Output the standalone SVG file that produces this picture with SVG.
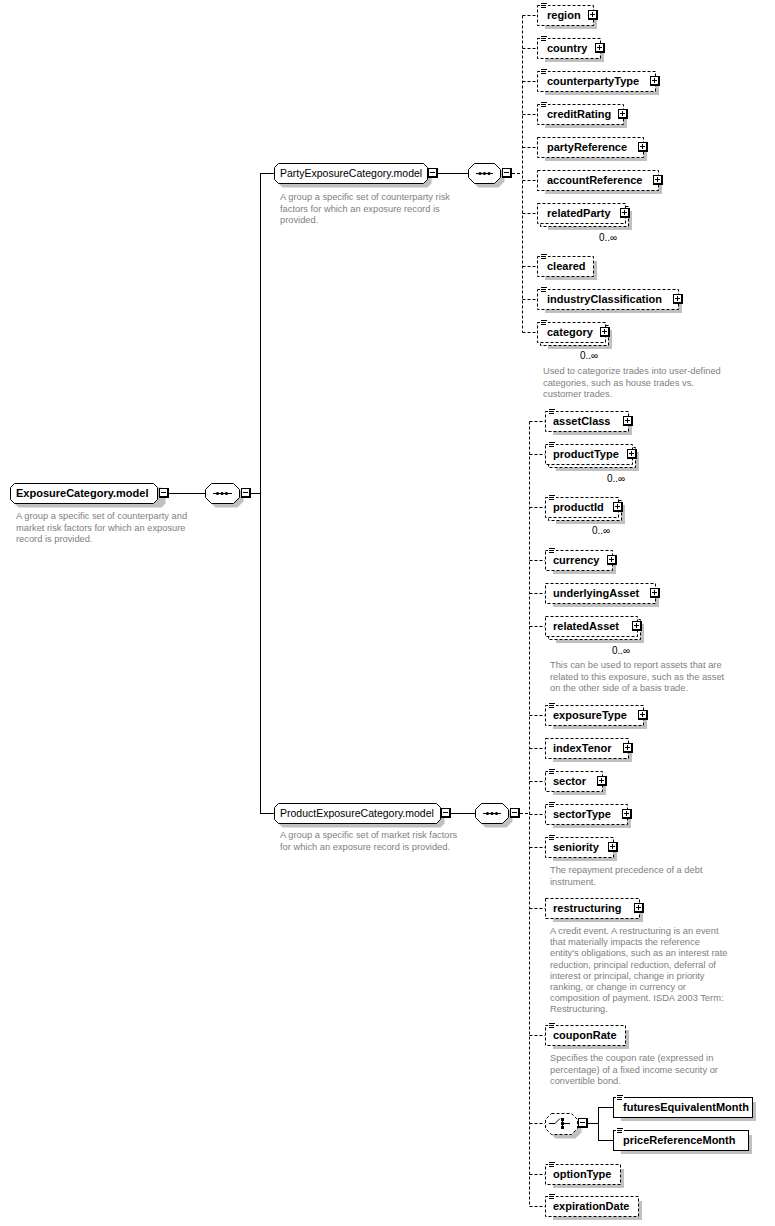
<svg xmlns="http://www.w3.org/2000/svg" width="775" height="1226" viewBox="0 0 775 1226">
<style>
.sh{fill:#c0c0c0}
.bx{fill:#fff;stroke:#000;stroke-dasharray:3 2}
.bs{fill:#fff;stroke:#000}
.en{font-family:"Liberation Sans",Arial,sans-serif;font-size:11px;font-weight:bold;fill:#000}
.gn{font-family:"Liberation Sans",Arial,sans-serif;font-size:10.5px;fill:#000}
.ds{font-family:"Liberation Sans",Arial,sans-serif;font-size:9.3px;fill:#808080}
.mu{font-family:"Liberation Sans",Arial,sans-serif;font-size:10px;fill:#000}
.cs{fill:none;stroke:#000}
.cd{fill:none;stroke:#000;stroke-dasharray:3 2}
</style>
<defs>
<g id="pl"><rect width="10" height="10" fill="#000"/><rect x="1" y="1" width="7" height="7" fill="#fff"/><rect x="2" y="4" width="5" height="1" fill="#000"/><rect x="4" y="2" width="1" height="5" fill="#000"/></g>
<g id="mi"><rect width="10" height="10" fill="#000"/><rect x="1" y="1" width="7" height="7" fill="#fff"/><rect x="2" y="4" width="5" height="1" fill="#000"/></g>
<g id="ic"><rect x="3" y="-3" width="8" height="7" fill="#fff"/><rect x="4" y="-2" width="6" height="1" fill="#000"/><rect x="4" y="0" width="5" height="1" fill="#000"/><rect x="4" y="2" width="5" height="1" fill="#000"/></g>
</defs>

<g id="connectors">
<path class="cs" d="M168 493.5H205.5M251 493.5H260.5M260.5 173V814M260.5 173.5H274.5M260.5 813.5H274.5M438 173.5H468.5M451 813.5H475.5"/>
<path class="cd" d="M512 173.5H522.5M522.5 15.5V332.5M522.5 15.5H537M522.5 48.5H537M522.5 81.5H537M522.5 114.5H537M522.5 147.5H537M522.5 180.5H537M522.5 213.5H537M522.5 266.5H537M522.5 299.5H537M522.5 332.5H537"/>
<path class="cd" d="M520 813.5H529.5M529.5 421.5V1206.5M529.5 421.5H545M529.5 454.5H545M529.5 507.5H545M529.5 560.5H545M529.5 593.5H545M529.5 626.5H545M529.5 715.5H545M529.5 748.5H545M529.5 781.5H545M529.5 814.5H545M529.5 847.5H545M529.5 908.5H545M529.5 1035.5H545M529.5 1123.5H545M529.5 1174.5H545M529.5 1206.5H545"/>
<path class="cs" d="M588 1123.5H598.5M598.5 1107V1141M598.5 1107.5H613M598.5 1140.5H613"/>
</g>

<g id="ExposureCategory.model">
<path class="sh" d="M18.5 487.5H161.5L165.5 491.5V503.5L161.5 507.5H18.5L14.5 503.5V491.5Z"/>
<path class="bs" d="M14.5 483.5H153.5L157.5 487.5V499.5L153.5 503.5H14.5L10.5 499.5V487.5Z"/>
<text class="en" x="16" y="497">ExposureCategory.model</text>
<use href="#mi" x="159" y="488"/>
<text class="ds"><tspan x="16" y="519">A group a specific set of counterparty and</tspan><tspan x="16" y="530.5">market risk factors for which an exposure</tspan><tspan x="16" y="542">record is provided.</tspan></text>
</g>

<g id="seq1">
<path class="sh" d="M215.5 487.5H237.5L243.5 493.5V501.5L237.5 507.5H215.5L209.5 501.5V493.5Z"/>
<path class="bs" d="M211.5 483.5H233.5L239.5 489.5V497.5L233.5 503.5H211.5L205.5 497.5V489.5Z"/>
<path class="cs" d="M213 493.5H232"/>
<circle cx="217.5" cy="493.5" r="1.6"/><circle cx="222" cy="493.5" r="1.6"/><circle cx="226.5" cy="493.5" r="1.6"/>
<use href="#mi" x="241" y="488"/>
</g>

<g id="PartyExposureCategory.model">
<path class="sh" d="M282.5 167.5H427.5L431.5 171.5V183.5L427.5 187.5H282.5L278.5 183.5V171.5Z"/>
<path class="bs" d="M278.5 163.5H423.5L427.5 167.5V179.5L423.5 183.5H278.5L274.5 179.5V167.5Z"/>
<text class="gn" x="280" y="177">PartyExposureCategory.model</text>
<use href="#mi" x="428" y="168"/>
<text class="ds"><tspan x="280" y="200">A group a specific set of counterparty risk</tspan><tspan x="280" y="211.5">factors for which an exposure record is</tspan><tspan x="280" y="223">provided.</tspan></text>
</g>

<g id="seq2">
<path class="sh" d="M478.5 167.5H498.5L504.5 173.5V181.5L498.5 187.5H478.5L472.5 181.5V173.5Z"/>
<path class="bs" d="M474.5 163.5H494.5L500.5 169.5V177.5L494.5 183.5H474.5L468.5 177.5V169.5Z"/>
<path class="cs" d="M476 173.5H493"/>
<circle cx="480" cy="173.5" r="1.6"/><circle cx="484.5" cy="173.5" r="1.6"/><circle cx="489" cy="173.5" r="1.6"/>
<use href="#mi" x="502" y="168"/>
</g>

<g id="region"><rect class="sh" x="545" y="10" width="52" height="19"/><rect class="bx" x="537.5" y="5.5" width="56" height="20"/><use href="#ic" x="537" y="5"/><text class="en" x="547" y="19">region</text><use href="#pl" x="588" y="10"/></g>
<g id="country"><rect class="sh" x="545" y="43" width="59" height="19"/><rect class="bx" x="537.5" y="38.5" width="63" height="20"/><use href="#ic" x="537" y="38"/><text class="en" x="547" y="52">country</text><use href="#pl" x="595" y="43"/></g>
<g id="counterpartyType"><rect class="sh" x="545" y="76" width="114" height="19"/><rect class="bx" x="537.5" y="71.5" width="118" height="20"/><use href="#ic" x="537" y="71"/><text class="en" x="547" y="85">counterpartyType</text><use href="#pl" x="650" y="76"/></g>
<g id="creditRating"><rect class="sh" x="545" y="109" width="82" height="19"/><rect class="bx" x="537.5" y="104.5" width="86" height="20"/><use href="#ic" x="537" y="104"/><text class="en" x="547" y="118">creditRating</text><use href="#pl" x="618" y="109"/></g>
<g id="partyReference"><rect class="sh" x="545" y="142" width="102" height="19"/><rect class="bx" x="537.5" y="137.5" width="106" height="20"/><text class="en" x="547" y="151">partyReference</text><use href="#pl" x="638" y="142"/></g>
<g id="accountReference"><rect class="sh" x="545" y="175" width="117" height="19"/><rect class="bx" x="537.5" y="170.5" width="121" height="20"/><text class="en" x="547" y="184">accountReference</text><use href="#pl" x="653" y="175"/></g>
<g id="relatedParty"><rect class="sh" x="548" y="211" width="84" height="19"/><rect class="bx" x="540.5" y="206.5" width="88" height="20"/><rect class="bx" x="537.5" y="203.5" width="88" height="20"/><text class="en" x="547" y="217">relatedParty</text><use href="#pl" x="620" y="208"/><text class="mu" x="599" y="241">0..∞</text></g>
<g id="cleared"><rect class="sh" x="545" y="261" width="52" height="19"/><rect class="bx" x="537.5" y="256.5" width="56" height="20"/><use href="#ic" x="537" y="256"/><text class="en" x="547" y="270">cleared</text></g>
<g id="industryClassification"><rect class="sh" x="545" y="294" width="137" height="19"/><rect class="bx" x="537.5" y="289.5" width="141" height="20"/><use href="#ic" x="537" y="289"/><text class="en" x="547" y="303">industryClassification</text><use href="#pl" x="673" y="294"/></g>
<g id="category"><rect class="sh" x="548" y="330" width="64" height="19"/><rect class="bx" x="540.5" y="325.5" width="68" height="20"/><rect class="bx" x="537.5" y="322.5" width="68" height="20"/><use href="#ic" x="537" y="322"/><text class="en" x="547" y="336">category</text><use href="#pl" x="600" y="327"/><text class="mu" x="580" y="359">0..∞</text>
<text class="ds"><tspan x="543" y="374">Used to categorize trades into user-defined</tspan><tspan x="543" y="385.5">categories, such as house trades vs.</tspan><tspan x="543" y="397">customer trades.</tspan></text></g>

<g id="ProductExposureCategory.model">
<path class="sh" d="M282.5 807.5H440.5L444.5 811.5V823.5L440.5 827.5H282.5L278.5 823.5V811.5Z"/>
<path class="bs" d="M278.5 803.5H436.5L440.5 807.5V819.5L436.5 823.5H278.5L274.5 819.5V807.5Z"/>
<text class="gn" x="280" y="817">ProductExposureCategory.model</text>
<use href="#mi" x="441" y="808"/>
<text class="ds"><tspan x="280" y="838">A group a specific set of market risk factors</tspan><tspan x="280" y="849.5">for which an exposure record is provided.</tspan></text>
</g>

<g id="seq3">
<path class="sh" d="M485.5 807.5H506.5L512.5 813.5V821.5L506.5 827.5H485.5L479.5 821.5V813.5Z"/>
<path class="bs" d="M481.5 803.5H502.5L508.5 809.5V817.5L502.5 823.5H481.5L475.5 817.5V809.5Z"/>
<path class="cs" d="M483 813.5H501"/>
<circle cx="487.5" cy="813.5" r="1.6"/><circle cx="492" cy="813.5" r="1.6"/><circle cx="496.5" cy="813.5" r="1.6"/>
<use href="#mi" x="510" y="808"/>
</g>

<g id="assetClass"><rect class="sh" x="553" y="416" width="79" height="19"/><rect class="bx" x="545.5" y="411.5" width="83" height="20"/><use href="#ic" x="545" y="411"/><text class="en" x="553" y="425">assetClass</text><use href="#pl" x="623" y="416"/></g>
<g id="productType"><rect class="sh" x="556" y="452" width="83" height="19"/><rect class="bx" x="548.5" y="447.5" width="87" height="20"/><rect class="bx" x="545.5" y="444.5" width="87" height="20"/><use href="#ic" x="545" y="444"/><text class="en" x="553" y="458">productType</text><use href="#pl" x="627" y="449"/><text class="mu" x="607" y="482">0..∞</text></g>
<g id="productId"><rect class="sh" x="556" y="505" width="69" height="19"/><rect class="bx" x="548.5" y="500.5" width="73" height="20"/><rect class="bx" x="545.5" y="497.5" width="73" height="20"/><use href="#ic" x="545" y="497"/><text class="en" x="553" y="511">productId</text><use href="#pl" x="613" y="502"/><text class="mu" x="592" y="534">0..∞</text></g>
<g id="currency"><rect class="sh" x="553" y="555" width="63" height="19"/><rect class="bx" x="545.5" y="550.5" width="67" height="20"/><use href="#ic" x="545" y="550"/><text class="en" x="553" y="564">currency</text><use href="#pl" x="607" y="555"/></g>
<g id="underlyingAsset"><rect class="sh" x="553" y="588" width="106" height="19"/><rect class="bx" x="545.5" y="583.5" width="110" height="20"/><text class="en" x="553" y="597">underlyingAsset</text><use href="#pl" x="650" y="588"/></g>
<g id="relatedAsset"><rect class="sh" x="556" y="624" width="88" height="19"/><rect class="bx" x="548.5" y="619.5" width="92" height="20"/><rect class="bx" x="545.5" y="616.5" width="92" height="20"/><text class="en" x="553" y="630">relatedAsset</text><use href="#pl" x="632" y="621"/><text class="mu" x="612" y="654">0..∞</text>
<text class="ds"><tspan x="550" y="668">This can be used to report assets that are</tspan><tspan x="550" y="679.5">related to this exposure, such as the asset</tspan><tspan x="550" y="691">on the other side of a basis trade.</tspan></text></g>
<g id="exposureType"><rect class="sh" x="553" y="710" width="94" height="19"/><rect class="bx" x="545.5" y="705.5" width="98" height="20"/><use href="#ic" x="545" y="705"/><text class="en" x="553" y="719">exposureType</text><use href="#pl" x="638" y="710"/></g>
<g id="indexTenor"><rect class="sh" x="553" y="743" width="79" height="19"/><rect class="bx" x="545.5" y="738.5" width="83" height="20"/><text class="en" x="553" y="752">indexTenor</text><use href="#pl" x="623" y="743"/></g>
<g id="sector"><rect class="sh" x="553" y="776" width="53" height="19"/><rect class="bx" x="545.5" y="771.5" width="57" height="20"/><use href="#ic" x="545" y="771"/><text class="en" x="553" y="785">sector</text><use href="#pl" x="597" y="776"/></g>
<g id="sectorType"><rect class="sh" x="553" y="809" width="78" height="19"/><rect class="bx" x="545.5" y="804.5" width="82" height="20"/><use href="#ic" x="545" y="804"/><text class="en" x="553" y="818">sectorType</text><use href="#pl" x="622" y="809"/></g>
<g id="seniority"><rect class="sh" x="553" y="842" width="64" height="19"/><rect class="bx" x="545.5" y="837.5" width="68" height="20"/><use href="#ic" x="545" y="837"/><text class="en" x="553" y="851">seniority</text><use href="#pl" x="608" y="842"/>
<text class="ds"><tspan x="550" y="873">The repayment precedence of a debt</tspan><tspan x="550" y="884.5">instrument.</tspan></text></g>
<g id="restructuring"><rect class="sh" x="553" y="903" width="90" height="19"/><rect class="bx" x="545.5" y="898.5" width="94" height="20"/><text class="en" x="553" y="912">restructuring</text><use href="#pl" x="634" y="903"/>
<text class="ds"><tspan x="550" y="934">A credit event. A restructuring is an event</tspan><tspan x="550" y="945.2">that materially impacts the reference</tspan><tspan x="550" y="956.4">entity's obligations, such as an interest rate</tspan><tspan x="550" y="967.6">reduction, principal reduction, deferral of</tspan><tspan x="550" y="978.8">interest or principal, change in priority</tspan><tspan x="550" y="990">ranking, or change in currency or</tspan><tspan x="550" y="1001.2">composition of payment. ISDA 2003 Term:</tspan><tspan x="550" y="1012.4">Restructuring.</tspan></text></g>
<g id="couponRate"><rect class="sh" x="553" y="1030" width="76" height="19"/><rect class="bx" x="545.5" y="1025.5" width="80" height="20"/><use href="#ic" x="545" y="1025"/><text class="en" x="553" y="1039">couponRate</text>
<text class="ds"><tspan x="550" y="1061">Specifies the coupon rate (expressed in</tspan><tspan x="550" y="1072.5">percentage) of a fixed income security or</tspan><tspan x="550" y="1084">convertible bond.</tspan></text></g>

<g id="choice">
<path class="sh" d="M555.5 1117.5H575.5L581.5 1123.5V1132.5L575.5 1138.5H555.5L549.5 1132.5V1123.5Z"/>
<path class="bx" d="M551.5 1113.5H571.5L577.5 1119.5V1128.5L571.5 1134.5H551.5L545.5 1128.5V1119.5Z"/>
<path class="cs" d="M549 1123.5H555L560 1118.5M562.5 1119V1129M563 1123.5H570"/>
<rect x="561" y="1118" width="3" height="3"/><rect x="561" y="1122" width="3" height="3"/><rect x="561" y="1126" width="3" height="3"/>
<use href="#mi" x="578" y="1118"/>
</g>
<g id="futuresEquivalentMonth"><rect class="sh" x="621" y="1102" width="135" height="19"/><rect class="bs" x="613.5" y="1097.5" width="139" height="20"/><use href="#ic" x="613" y="1097"/><text class="en" x="623" y="1111">futuresEquivalentMonth</text></g>
<g id="priceReferenceMonth"><rect class="sh" x="621" y="1135" width="131" height="19"/><rect class="bs" x="613.5" y="1130.5" width="135" height="20"/><use href="#ic" x="613" y="1130"/><text class="en" x="623" y="1144">priceReferenceMonth</text></g>
<g id="optionType"><rect class="sh" x="553" y="1169" width="71" height="19"/><rect class="bx" x="545.5" y="1164.5" width="75" height="20"/><use href="#ic" x="545" y="1164"/><text class="en" x="553" y="1178">optionType</text></g>
<g id="expirationDate"><rect class="sh" x="553" y="1201" width="89" height="19"/><rect class="bx" x="545.5" y="1196.5" width="93" height="20"/><use href="#ic" x="545" y="1196"/><text class="en" x="553" y="1210">expirationDate</text></g>
</svg>
